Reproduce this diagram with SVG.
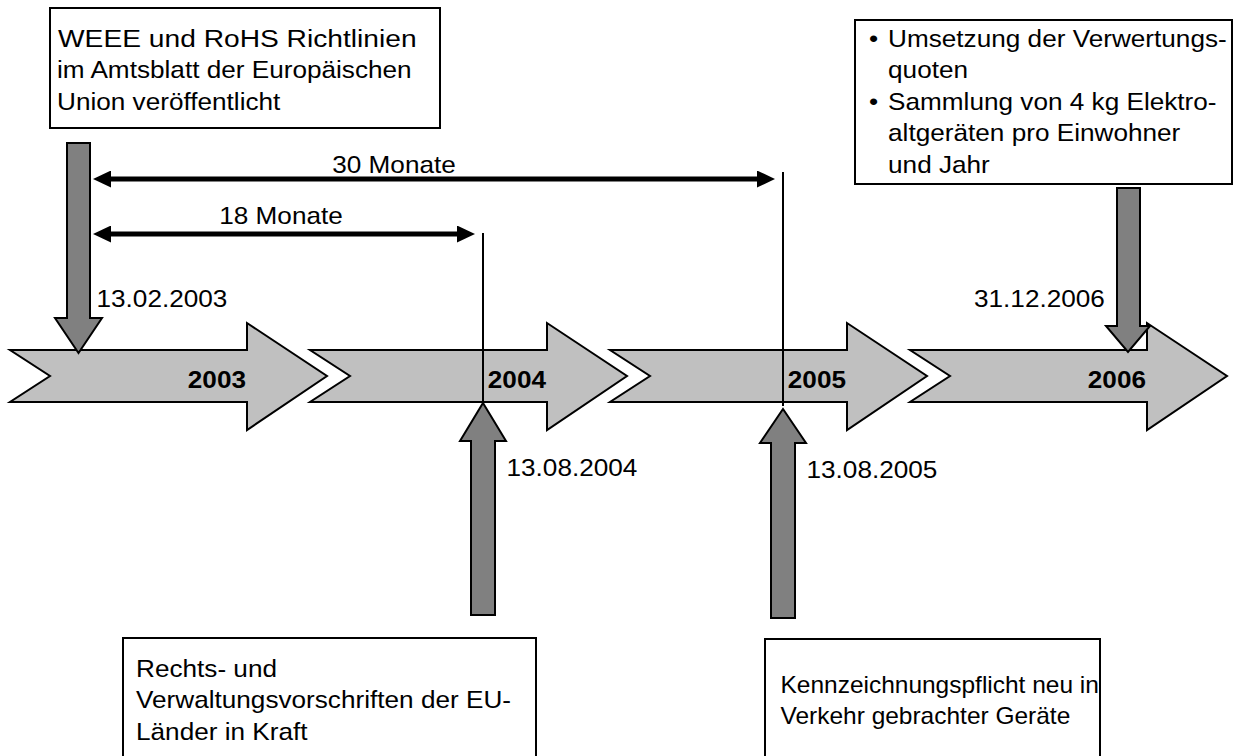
<svg xmlns="http://www.w3.org/2000/svg" width="1243" height="756" viewBox="0 0 1243 756">
  <style>
    .lbl { font-family: "Liberation Sans", Arial, sans-serif; font-size: 24px; fill: #000; }
    .year { font-family: "Liberation Sans", Arial, sans-serif; font-size: 24px; font-weight: bold; fill: #000; }
    .box { fill: #fff; stroke: #000; stroke-width: 2; }
    .band { fill: #c0c0c0; stroke: #000; stroke-width: 2; stroke-linejoin: miter; }
    .pin { fill: #808080; stroke: #000; stroke-width: 2; stroke-linejoin: miter; }
    .span { stroke: #000; stroke-width: 5; fill: none; }
    .tick { stroke: #000; stroke-width: 2; fill: none; }
  </style>
  <defs>
    <marker id="head" viewBox="0 0 18 17" markerWidth="18" markerHeight="17" refX="2" refY="8.5" orient="auto-start-reverse" markerUnits="userSpaceOnUse">
      <path d="M0,0 L18,8.5 L0,17 z" fill="#000"/>
    </marker>
  </defs>

  <!-- year bands -->
  <g id="year-2003">
    <polygon class="band" points="10,350 247,350 247,323 327,376 247,430 247,402 10,402 50,376"/>
    <text class="year" text-anchor="end" transform="translate(246 388) scale(1.09 1)">2003</text>
  </g>
  <g id="year-2004">
    <polygon class="band" points="310,350 547,350 547,323 627,376 547,430 547,402 310,402 350,376"/>
    <text class="year" text-anchor="end" transform="translate(546 388) scale(1.09 1)">2004</text>
  </g>
  <g id="year-2005">
    <polygon class="band" points="610,350 847,350 847,323 927,376 847,430 847,402 610,402 650,376"/>
    <text class="year" text-anchor="end" transform="translate(846 388) scale(1.09 1)">2005</text>
  </g>
  <g id="year-2006">
    <polygon class="band" points="910,350 1147,350 1147,323 1227,376 1147,430 1147,402 910,402 950,376"/>
    <text class="year" text-anchor="end" transform="translate(1146 388) scale(1.09 1)">2006</text>
  </g>

  <!-- durations and date markers -->
  <g id="connectors">
    <line class="tick" x1="483" y1="233" x2="483" y2="403"/>
    <line class="tick" x1="783" y1="172" x2="783" y2="406"/>
    <line class="span" x1="109" y1="179" x2="759" y2="179" marker-start="url(#head)" marker-end="url(#head)"/>
    <line class="span" x1="109" y1="234" x2="459" y2="234" marker-start="url(#head)" marker-end="url(#head)"/>
    <text class="lbl" text-anchor="middle" transform="translate(394 172.5) scale(1.09 1)">30 Monate</text>
    <text class="lbl" text-anchor="middle" transform="translate(281 224) scale(1.09 1)">18 Monate</text>
  </g>

  <!-- 13.02.2003: publication -->
  <g id="event-publication">
    <rect class="box" x="50" y="8" width="390" height="120"/>
    <text class="lbl" transform="translate(58 46.5) scale(1.09 1)" textLength="329" lengthAdjust="spacingAndGlyphs">WEEE und RoHS Richtlinien</text>
    <text class="lbl" transform="translate(57 46.5) scale(1.09 1)">
      <tspan x="0" y="31.8">im Amtsblatt der Europäischen</tspan>
      <tspan x="0" y="63.6">Union veröffentlicht</tspan>
    </text>
    <polygon class="pin" points="67,143 90,143 90,318 102,318 78.5,353 55,318 67,318"/>
    <text class="lbl" transform="translate(96.5 307) scale(1.09 1)">13.02.2003</text>
  </g>

  <!-- 13.08.2004: national law in force -->
  <g id="event-national-law">
    <polygon class="pin" points="483,403 506,441 495,441 495,615 471,615 471,441 460,441"/>
    <text class="lbl" transform="translate(506.5 475.5) scale(1.09 1)">13.08.2004</text>
    <rect class="box" x="123" y="638" width="413" height="130"/>
    <text class="lbl" transform="translate(136 676.5) scale(1.09 1)">
      <tspan x="0" y="0">Rechts- und</tspan>
      <tspan x="0" y="31.8">Verwaltungsvorschriften der EU-</tspan>
      <tspan x="0" y="63.6">Länder in Kraft</tspan>
    </text>
  </g>

  <!-- 13.08.2005: labelling obligation -->
  <g id="event-labelling">
    <polygon class="pin" points="783,409 806,443 795,443 795,618 771,618 771,443 760,443"/>
    <text class="lbl" transform="translate(806.5 478) scale(1.09 1)">13.08.2005</text>
    <rect class="box" x="765" y="639" width="335" height="130"/>
    <text class="lbl" transform="translate(780.5 692.5) scale(1.02 1)">
      <tspan x="0" y="0">Kennzeichnungspflicht neu in</tspan>
      <tspan x="0" y="31.8">Verkehr gebrachter Geräte</tspan>
    </text>
  </g>

  <!-- 31.12.2006: recovery quotas and collection target -->
  <g id="event-quotas">
    <rect class="box" x="855" y="20" width="377" height="164"/>
    <text class="lbl" transform="translate(869 46.5) scale(1.09 1)">
      <tspan x="0" y="0">•</tspan><tspan x="17.5" y="0">Umsetzung der Verwertungs-</tspan>
      <tspan x="17.5" y="31.6">quoten</tspan>
      <tspan x="0" y="63.2">•</tspan><tspan x="17.5" y="63.2">Sammlung von 4 kg Elektro-</tspan>
      <tspan x="17.5" y="94.8">altgeräten pro Einwohner</tspan>
      <tspan x="17.5" y="126.4">und Jahr</tspan>
    </text>
    <polygon class="pin" points="1117,188 1140,188 1140,326 1150,326 1128,352 1106,326 1117,326"/>
    <text class="lbl" transform="translate(974 306.5) scale(1.09 1)">31.12.2006</text>
  </g>
</svg>
